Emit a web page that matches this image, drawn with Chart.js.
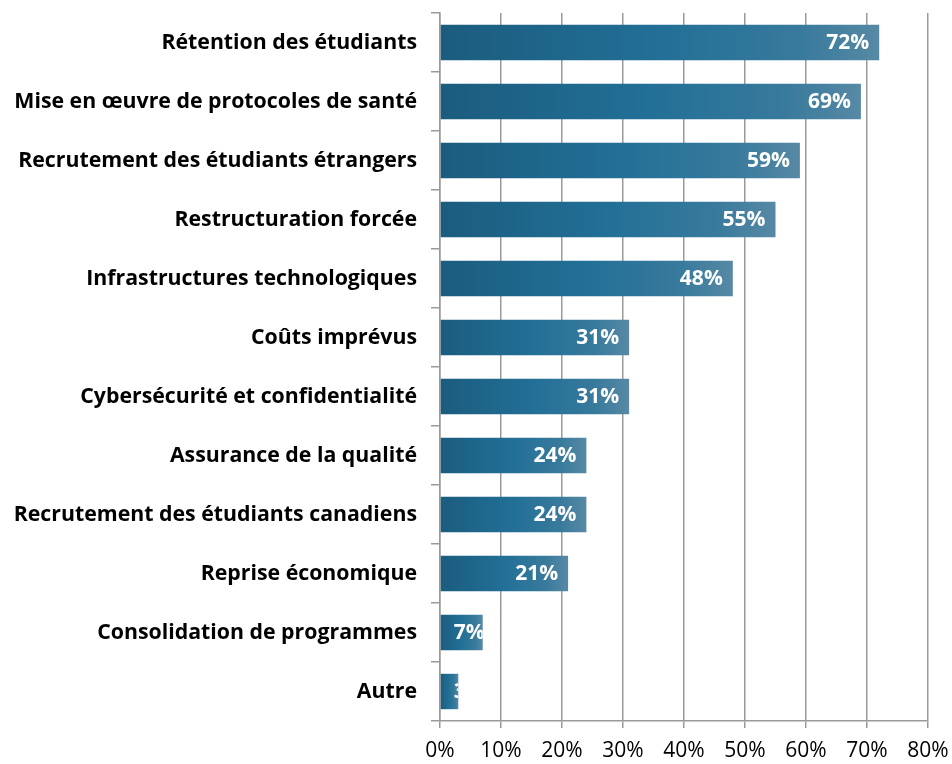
<!DOCTYPE html>
<html>
<head>
<meta charset="utf-8">
<script src="https://cdn.jsdelivr.net/npm/chart.js@4.4.1/dist/chart.umd.min.js"></script>
<style>
    html, body { margin: 0; padding: 0; background: #fff; }
    #wrap { width: 952px; height: 764px; }
</style>
</head>
<body>
<div id="wrap"><canvas id="chart" width="952" height="764"></canvas></div>
<script>
const categories = [
    'Rétention des étudiants',
    'Mise en œuvre de protocoles de santé',
    'Recrutement des étudiants étrangers',
    'Restructuration forcée',
    'Infrastructures technologiques',
    'Coûts imprévus',
    'Cybersécurité et confidentialité',
    'Assurance de la qualité',
    'Recrutement des étudiants canadiens',
    'Reprise économique',
    'Consolidation de programmes',
    'Autre'
];
const values = [72, 69, 59, 55, 48, 31, 31, 24, 24, 21, 7, 3];
const xTicks = [0, 10, 20, 30, 40, 50, 60, 70, 80];

const FONT = "'Open Sans', sans-serif";
Chart.defaults.font.family = FONT;
Chart.defaults.color = '#000';

// horizontal gradient along the length of each bar
function barGradient(c) {
    const xs = c.chart.scales.x;
    if (!xs || !isFinite(xs.getPixelForValue(0))) return '#226f97';
    const x0 = xs.getPixelForValue(0);
    const x1 = xs.getPixelForValue(c.raw);
    if (!isFinite(x1) || x1 <= x0) return '#226f97';
    const g = c.chart.ctx.createLinearGradient(x0, 0, x1, 0);
    g.addColorStop(0, '#1b5c7e');
    g.addColorStop(0.5, '#226f97');
    g.addColorStop(0.82, '#387a9c');
    g.addColorStop(1, '#5789a5');
    return g;
}

// white value labels at the inside end of each bar, clipped to the bar
const valueLabels = {
    id: 'valueLabels',
    afterDatasetsDraw(chart) {
        const ctx = chart.ctx;
        const meta = chart.getDatasetMeta(0);
        ctx.save();
        ctx.font = 'bold 21px ' + FONT;
        ctx.fillStyle = '#fff';
        ctx.textBaseline = 'middle';
        ctx.textAlign = 'left';
        meta.data.forEach((bar, i) => {
            const text = values[i] + '%';
            const w = ctx.measureText(text).width;
            let x = bar.x - 10 - w;
            if (x < bar.base + 13) x = bar.base + 13;
            ctx.save();
            ctx.beginPath();
            ctx.rect(bar.base, bar.y - bar.height / 2, bar.x - bar.base, bar.height);
            ctx.clip();
            ctx.fillText(text, x, bar.y + 1);
            ctx.restore();
        });
        ctx.restore();
    }
};

new Chart(document.getElementById('chart'), {
    type: 'bar',
    data: {
        labels: categories,
        datasets: [{
            data: values,
            backgroundColor: barGradient,
            borderWidth: 0,
            categoryPercentage: 0.6,
            barPercentage: 1
        }]
    },
    options: {
        indexAxis: 'y',
        responsive: false,
        animation: false,
        layout: { padding: { top: 13, right: 0, left: 0, bottom: 0 } },
        plugins: {
            legend: { display: false },
            tooltip: { enabled: false }
        },
        scales: {
            x: {
                min: 0,
                max: 80,
                afterBuildTicks: s => { s.ticks = xTicks.map(v => ({ value: v })); },
                afterFit: s => {
                    s.height = 43;
                    s.paddingLeft = 0;
                    s.paddingRight = 24;
                },
                ticks: {
                    callback: v => v + '%',
                    font: { size: 21 },
                    color: '#000',
                    padding: 10,
                    maxRotation: 0
                },
                grid: { color: '#9a9a9a', lineWidth: 1.5, tickLength: 7 },
                border: { color: '#9a9a9a', width: 1.5 }
            },
            y: {
                afterFit: s => {
                    s.width = 440;
                    s.paddingTop = 0;
                    s.paddingBottom = 0;
                },
                ticks: {
                    font: { size: 21.3, weight: 'bold' },
                    color: '#000',
                    padding: 14
                },
                grid: { drawOnChartArea: false, color: '#9a9a9a', lineWidth: 1.5, tickLength: 9 },
                border: { color: '#9a9a9a', width: 1.5 }
            }
        }
    },
    plugins: [valueLabels]
});
</script>
</body>
</html>
